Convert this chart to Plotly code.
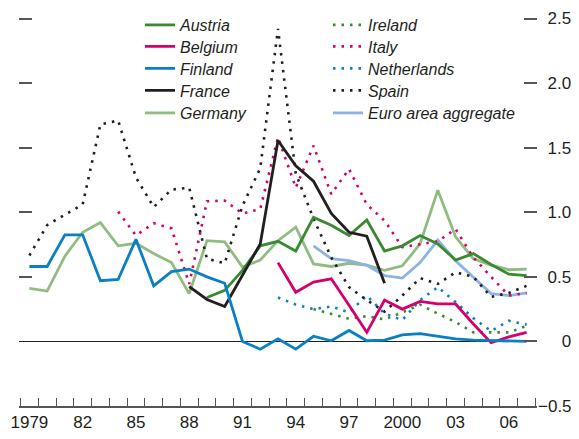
import plotly.graph_objects as go

years = list(range(1979, 2008))

austria_start = 1989
austria = [0.34, 0.395, 0.55, 0.74, 0.775, 0.70, 0.96, 0.90, 0.82, 0.94, 0.70, 0.74,
           0.82, 0.755, 0.63, 0.68, 0.595, 0.52, 0.51]
belgium_start = 1993
belgium = [0.61, 0.38, 0.46, 0.485, 0.28, 0.07, 0.32, 0.25, 0.31, 0.29, 0.29, 0.135,
           -0.01, 0.035, 0.07]
finland_start = 1979
finland = [0.58, 0.58, 0.825, 0.825, 0.47, 0.48, 0.79, 0.43, 0.54, 0.56, 0.50, 0.45,
           0.0, -0.06, 0.02, -0.06, 0.04, 0.005, 0.085, 0.005, 0.01, 0.05, 0.06, 0.04,
           0.02, 0.01, 0.005, 0.0, 0.0]
france_start = 1988
france = [0.425, 0.325, 0.27, 0.51, 0.755, 1.555, 1.36, 1.24, 0.99, 0.845, 0.815, 0.45]
germany_start = 1979
germany = [0.41, 0.39, 0.66, 0.845, 0.92, 0.74, 0.76, 0.68, 0.61, 0.37, 0.78, 0.77,
           0.575, 0.63, 0.78, 0.885, 0.60, 0.58, 0.605, 0.59, 0.55, 0.585, 0.755, 1.17,
           0.81, 0.64, 0.59, 0.555, 0.56]
ireland_start = 1995
ireland = [0.25, 0.215, 0.175, 0.195, 0.17, 0.225, 0.285, 0.215, 0.15, 0.07, 0.07,
           0.07, 0.12]
italy_start = 1984
italy = [1.005, 0.82, 0.915, 0.875, 0.445, 1.085, 1.09, 0.99, 1.025, 1.58, 1.19, 1.515,
         1.14, 1.335, 1.06, 0.935, 0.73, 0.75, 0.775, 0.87, 0.65, 0.50, 0.355, 0.375]
netherlands_start = 1993
netherlands = [0.34, 0.285, 0.25, 0.27, 0.225, 0.355, 0.215, 0.165, 0.32, 0.42, 0.305,
               0.18, 0.08, 0.16, 0.13]
spain_start = 1979
spain = [0.665, 0.90, 0.98, 1.06, 1.68, 1.71, 1.27, 1.04, 1.175, 1.19, 0.64, 0.605,
         1.05, 1.34, 2.42, 1.3, 0.95, 0.65, 0.42, 0.32, 0.23, 0.355, 0.49, 0.445, 0.535,
         0.50, 0.345, 0.375, 0.43]
euro_start = 1995
euro = [0.74, 0.64, 0.625, 0.59, 0.51, 0.49, 0.61, 0.785, 0.625, 0.50, 0.37, 0.355, 0.375]

x_tick_years = [1979, 1982, 1985, 1988, 1991, 1994, 1997, 2000, 2003, 2006]
x_tick_text = ["1979", "82", "85", "88", "91", "94", "97", "2000", "03", "06"]
y_tick_vals = [-0.5, 0, 0.5, 1.0, 1.5, 2.0, 2.5]
y_tick_text = ["\u22120.5", "\u2007\u2007\u20080", "\u20070.5", "\u20071.0", "\u20071.5",
               "\u20072.0", "\u20072.5"]
left_tick_vals = [0.5, 1.0, 1.5, 2.0, 2.5]

FONT = "Liberation Sans, Arial, sans-serif"
TXT = "#231f20"
GREEN = "#3a8a32"
LGREEN = "#8fbc80"
MAGENTA = "#d4006e"
BLUE = "#0a80c4"
BLACK = "#231f20"
LBLUE = "#8db3e2"
TICK = "#555555"
DOT = "2.5px,6px"

series = [
    ("Austria", austria_start, austria, GREEN, "solid"),
    ("Belgium", belgium_start, belgium, MAGENTA, "solid"),
    ("Finland", finland_start, finland, BLUE, "solid"),
    ("France", france_start, france, BLACK, "solid"),
    ("Germany", germany_start, germany, LGREEN, "solid"),
    ("Ireland", ireland_start, ireland, GREEN, DOT),
    ("Italy", italy_start, italy, MAGENTA, DOT),
    ("Netherlands", netherlands_start, netherlands, BLUE, DOT),
    ("Spain", spain_start, spain, BLACK, DOT),
    ("Euro area aggregate", euro_start, euro, LBLUE, "solid"),
]

# page body has an 8px default margin; size the figure so the plot lands in place
PAGE_OFF = 8
WIN_W, WIN_H = 579, 439
plot_l, plot_r, plot_t, plot_b = 20, 536, 18, 406   # target window pixels (axis ends)
fig_w = WIN_W - PAGE_OFF
fig_h = WIN_H - PAGE_OFF

# plotly drops inside ticks lying within 1px of an axis end; pad the ends a little
END_PAD = 1.5
x_ppu = (plot_r - plot_l) / 29.0
y_ppu = (plot_b - plot_t) / 3.0
X_RANGE = [1978.5 - END_PAD / x_ppu, 2007.5 + END_PAD / x_ppu]
Y_RANGE = [-0.5, 2.5 + END_PAD / y_ppu]

# legend row centers (window pixels) and column left edges
row_px = [25, 46.5, 68.5, 90.5, 113]
col_left_px = [140, 328]


def px_to_container_x(px):
    return (px - PAGE_OFF) / fig_w


def px_to_container_y(py):
    return 1 - (py - PAGE_OFF) / fig_h


fig = go.Figure()
legends = {}
draw_order = [4, 9, 5, 7, 6, 8, 0, 1, 3, 2]
for i in draw_order:
    name, start, vals, color, dash = series[i]
    xs = list(range(start, start + len(vals)))
    lname = "legend" if i == 0 else f"legend{i + 1}"
    width = 2.6 if dash != "solid" else 2.8
    fig.add_trace(go.Scatter(
        x=xs, y=vals, mode="lines", name=name,
        line=dict(color=color, width=width, dash=dash),
        legend=lname, hoverinfo="skip",
    ))
for i in range(len(series)):
    lname = "legend" if i == 0 else f"legend{i + 1}"
    col, row = divmod(i, 5)
    legends[lname] = dict(
        xref="container", yref="container",
        x=px_to_container_x(col_left_px[col]), y=px_to_container_y(row_px[row]),
        xanchor="left", yanchor="middle",
        bgcolor="rgba(0,0,0,0)", borderwidth=0, itemwidth=30,
        font=dict(family=FONT, size=16, color=TXT, style="italic"),
    )

# empty trace to hold the right-side labelled axis
fig.add_trace(go.Scatter(x=[], y=[], yaxis="y2", showlegend=False, hoverinfo="skip"))

fig.update_layout(
    width=fig_w, height=fig_h,
    margin=dict(l=plot_l - PAGE_OFF - END_PAD, r=WIN_W - plot_r - END_PAD,
                t=plot_t - PAGE_OFF - END_PAD, b=WIN_H - plot_b,
                pad=0, autoexpand=False),
    paper_bgcolor="white", plot_bgcolor="white",
    showlegend=True,
    font=dict(family=FONT, color=TXT),
    xaxis=dict(
        range=X_RANGE, tickvals=x_tick_years, ticktext=x_tick_text,
        ticks="", showgrid=False, zeroline=False, automargin=False,
        showline=True, linecolor=TICK, linewidth=1.5,
        tickfont=dict(family=FONT, size=17, color=TXT),
        minor=dict(tickvals=[y - 0.5 for y in years] + [years[-1] + 0.5],
                   ticks="inside", ticklen=8, tickcolor=TICK, tickwidth=1.2,
                   showgrid=False),
    ),
    yaxis=dict(
        side="left", range=Y_RANGE, tickvals=left_tick_vals,
        ticks="inside", ticklen=13, tickcolor=TICK, tickwidth=1.5,
        showticklabels=False, showgrid=False, showline=False, automargin=False,
        zeroline=True, zerolinecolor=BLACK, zerolinewidth=1.2,
    ),
    yaxis2=dict(
        overlaying="y", side="right", anchor="x", matches="y", range=Y_RANGE,
        tickvals=y_tick_vals, ticktext=y_tick_text,
        ticks="inside", ticklen=13, tickcolor=TICK, tickwidth=1.5,
        showgrid=False, zeroline=False, showline=False, automargin=False,
        tickfont=dict(family=FONT, size=17, color=TXT),
    ),
    **legends,
)

fig.write_html("out.html")
